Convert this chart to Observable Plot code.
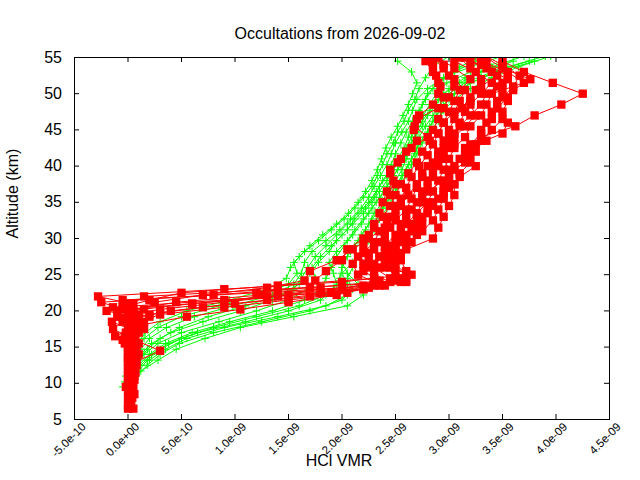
<!DOCTYPE html>
<html>
<head>
<meta charset="utf-8">
<script src="https://cdn.jsdelivr.net/npm/d3@7"></script>
<script src="https://cdn.jsdelivr.net/npm/@observablehq/plot@0.6"></script>
<style>
  html, body { margin: 0; padding: 0; background: #fff; }
</style>
</head>
<body>
<div id="chart"></div>
<script>
// ---- Data (HCl VMR in units of 1e-9, altitude in km) ----
const xTicks = [-0.5, 0, 0.5, 1, 1.5, 2, 2.5, 3, 3.5, 4, 4.5];
const yTicks = [5, 10, 15, 20, 25, 30, 35, 40, 45, 50, 55];

const greenAltA = [9.5, 11, 12.5, 14, 15.5, 17, 18.5, 20, 21.5, 23, 24.5, 26, 27.5, 29, 30.5, 32, 33.5, 35, 36.5, 38, 39.5, 41, 42.5, 44, 45.5, 47, 48.5, 50, 51.5, 53, 54.5];
const greenAltB = [10.2, 11.7, 13.2, 14.7, 16.2, 17.7, 19.2, 20.7, 22.2, 23.7, 25.2, 26.7, 28.2, 29.7, 31.2, 32.7, 34.2, 35.7, 37.2, 38.7, 40.2, 41.7, 43.2, 44.7, 46.2, 47.7, 49.2, 50.7, 52.2, 53.7, 55.2];

const g01 = [-0.05, -0.02, 0.02, 0.05, 0.09, 0.16, 0.3, 0.55, 0.95, 1.3, 1.48, 1.52, 1.6, 1.7, 1.82, 1.95, 2.06, 2.15, 2.22, 2.28, 2.33, 2.37, 2.41, 2.46, 2.52, 2.57, 2.62, 2.66, 2.7, 2.65, 2.52];
const g02 = [0.0, 0.05, 0.1, 0.18, 0.3, 0.48, 0.75, 1.1, 1.42, 1.6, 1.7, 1.78, 1.88, 1.95, 2.05, 2.12, 2.22, 2.3, 2.35, 2.42, 2.46, 2.5, 2.55, 2.6, 2.66, 2.72, 2.78, 2.85, 2.95, 3.1, 3.3];
const g03 = [0.02, 0.08, 0.18, 0.3, 0.48, 0.8, 1.25, 1.7, 2.0, 2.1, 2.05, 2.1, 2.15, 2.2, 2.25, 2.3, 2.35, 2.42, 2.5, 2.55, 2.6, 2.65, 2.7, 2.78, 2.82, 2.88, 2.95, 3.05, 3.2, 3.45, 3.8];
const g04 = [null, 0.12, 0.28, 0.45, 0.72, 1.05, 1.55, 2.05, 2.2, 2.15, 2.05, 2.0, 2.08, 2.15, 2.22, 2.28, 2.38, 2.45, 2.5, 2.56, 2.62, 2.68, 2.72, 2.8, 2.85, 2.92, 3.0, 3.12, 3.3, 3.55, 3.9];
const g05 = [null, 0.02, 0.06, 0.12, 0.22, 0.4, 0.7, 1.05, 1.35, 1.55, 1.62, 1.68, 1.75, 1.85, 1.95, 2.05, 2.15, 2.25, 2.32, 2.38, 2.45, 2.52, 2.58, 2.62, 2.68, 2.72, 2.75, 2.8, 2.9, 3.05, 3.25];
const g06 = [-0.03, 0.0, 0.04, 0.08, 0.15, 0.28, 0.5, 0.85, 1.25, 1.5, 1.58, 1.55, 1.65, 1.78, 1.9, 2.02, 2.12, 2.2, 2.28, 2.33, 2.38, 2.42, 2.48, 2.52, 2.58, 2.62, 2.68, 2.72, 2.78, 2.85, 3.0];
const g07 = [null, null, 0.1, 0.2, 0.35, 0.6, 0.95, 1.35, 1.65, 1.8, 1.85, 1.9, 1.95, 2.02, 2.1, 2.18, 2.25, 2.32, 2.4, 2.45, 2.52, 2.58, 2.62, 2.68, 2.75, 2.8, 2.88, 2.95, 3.1, 3.3, 3.6];
const g08 = [0.05, 0.1, 0.18, 0.3, 0.5, 0.8, 1.2, 1.6, 1.85, 1.95, 1.92, 1.88, 1.95, 2.05, 2.12, 2.2, 2.28, 2.35, 2.42, 2.48, 2.55, 2.6, 2.65, 2.7, 2.75, 2.82, 2.9, 3.0, 3.15, 3.4, 3.7];
const g09 = [-0.02, 0.03, 0.08, 0.15, 0.28, 0.5, 0.85, 1.2, 1.5, 1.68, 1.75, 1.72, 1.8, 1.9, 2.0, 2.1, 2.2, 2.28, 2.35, 2.42, 2.48, 2.55, 2.6, 2.65, 2.7, 2.76, 2.82, 2.88, 2.98, 3.2, 3.5];
const g10 = [null, null, 0.2, 0.35, 0.55, 0.9, 1.4, 1.85, 2.05, 2.05, 2.0, 2.1, 2.2, 2.25, 2.3, 2.35, 2.42, 2.48, 2.52, 2.6, 2.65, 2.7, 2.75, 2.82, 2.9, 2.95, 3.05, 3.2, 3.4, 3.65, 3.95];
const g11 = [0.0, 0.05, 0.12, 0.22, 0.38, 0.65, 1.1, 1.5, 1.8, 1.92, 1.98, 2.0, 2.05, 2.12, 2.18, 2.25, 2.3, 2.38, 2.45, 2.5, 2.56, 2.6, 2.66, 2.72, 2.78, 2.85, 2.92, 3.0, 3.15, 3.4, 3.75];
const g12 = [null, 0.02, 0.06, 0.12, 0.2, 0.36, 0.62, 0.98, 1.35, 1.55, 1.62, 1.65, 1.72, 1.85, 1.98, 2.08, 2.18, 2.25, 2.3, 2.36, 2.42, 2.46, 2.5, 2.56, 2.62, 2.66, 2.7, 2.8, 2.95, 3.2, 3.5];

const redAltA = [6.5, 8, 9.5, 11, 12.5, 14, 15.5, 17, 18.5, 19.5, 20.5, 21.5, 22.5, 23.5, 24.5, 26, 27.5, 29, 30.5, 32, 33.5, 35, 36.5, 38, 39.5, 41, 42.5, 44, 45.5, 47, 48.5, 50, 51.5, 53, 54.5];
const redAltB = [7, 8.5, 10, 11.5, 13, 14.5, 16, 17.5, 19, 20, 21, 22, 23, 24, 25, 26.5, 28, 29.5, 31, 32.5, 34, 35.5, 37, 38.5, 40, 41.5, 43, 44.5, 46, 47.5, 49, 50.5, 52, 53.5, 55];
const redAltC = [7.5, 9, 10.5, 12, 13.5, 15, 16.5, 18, 19.2, 20.2, 21.2, 22.2, 23.2, 24.2, 25.5, 27, 28.5, 30, 31.5, 33, 34.5, 36, 37.5, 39, 40.5, 42, 43.5, 45, 46.5, 48, 49.5, 51, 52.5, 54, 55.5];

const r01 = [0.05, 0.0, -0.02, 0.0, 0.02, 0.0, 0.03, -0.02, 0.05, 0.1, 0.0, -0.05, 1.2, 2.35, 2.45, 2.3, 2.15, 2.2, 2.25, 2.3, 2.35, 2.38, 2.42, 2.48, 2.45, 2.55, 2.65, 2.8, 2.68, 2.72, 2.85, 2.9, 2.9, 2.85, 2.78];
const r02 = [null, 0.02, 0.04, 0.03, 0.05, 0.02, 0.06, -0.14, 0.0, -0.1, 0.02, -0.28, 0.9, 2.0, 2.6, 2.45, 2.4, 2.5, 2.55, 2.6, 2.65, 2.75, 2.8, 2.85, 2.9, 2.95, 3.0, 3.05, 3.1, 3.15, 3.2, 3.25, 3.3, 3.2, 3.1];
const r03 = [0.03, 0.0, 0.05, 0.01, 0.04, 0.08, -0.12, 0.1, 0.55, 1.05, 1.5, 1.95, 2.25, 2.35, 2.2, 2.25, 2.3, 2.4, 2.45, 2.5, 2.55, 2.62, 2.7, 2.75, 2.85, 2.9, 2.95, 3.0, 3.05, 3.12, 3.2, 3.3, 3.45, 3.3, 3.2];
const r04 = [null, null, 0.03, 0.06, 0.01, 0.05, -0.03, 0.1, -0.15, 0.05, -0.14, 0.9, 1.8, 2.3, 2.5, 2.45, 2.5, 2.6, 2.7, 2.75, 2.8, 2.85, 2.95, 3.0, 3.05, 3.1, 3.15, 3.3, 3.62, 3.8, 4.05, 4.25, 3.97, 3.7, 3.5];
const r05 = [0.0, 0.06, 0.0, 0.07, 0.0, 0.06, 0.0, 0.15, 0.1, 0.0, 0.6, 1.3, 2.0, 2.3, 2.15, 2.1, 2.2, 2.3, 2.35, 2.42, 2.5, 2.55, 2.6, 2.65, 2.72, 2.8, 2.85, 2.9, 2.95, 3.0, 3.05, 3.1, 3.2, 3.05, 2.9];
const r06 = [null, null, 0.0, 0.04, 0.0, 0.03, 0.07, 0.0, 0.2, -0.05, -0.25, 0.8, 1.7, 2.5, 2.6, 2.55, 2.6, 2.85, 2.9, 2.95, 3.0, 3.05, 3.05, 3.1, 3.2, 3.25, 3.3, 3.4, 3.5, 3.45, 3.5, 3.6, 3.66, 3.5, 3.3];
const r07 = [null, 0.04, 0.0, 0.03, 0.06, 0.1, 0.08, 0.05, 0.1, 0.3, 0.9, 1.5, 2.05, 2.2, 2.3, 2.25, 2.35, 2.4, 2.5, 2.55, 2.6, 2.7, 2.75, 2.8, 2.85, 2.9, 2.95, 3.0, 3.1, 3.2, 3.3, 3.35, 3.5, 3.4, 3.2];
const r08 = [null, null, 0.02, 0.0, 0.03, 0.0, 0.04, 0.08, -0.05, 0.0, 0.05, 0.15, 1.4, 2.55, 2.65, 2.3, 2.45, 2.55, 2.65, 2.7, 2.8, 2.9, 2.95, 3.0, 3.05, 3.15, 3.2, 3.3, 3.35, 3.4, 3.45, 3.5, 3.55, 3.35, 3.15];
const r09 = [null, 0.02, 0.06, 0.0, 0.05, 0.0, -0.03, 0.12, -0.1, 0.3, 0.9, 1.5, 1.8, 1.75, 1.85, 2.0, 2.05, 2.2, 2.3, 2.38, 2.45, 2.5, 2.55, 2.62, 2.7, 2.75, 2.82, 2.85, 2.9, 2.95, 3.0, 3.05, 3.0, 2.95, 2.8];
const r10 = [0.0, 0.02, 0.05, 0.02, 0.0, 0.04, 0.02, 0.0, 0.15, 0.05, -0.05, 0.2, 0.5, 1.4, 2.3, 2.35, 2.45, 2.5, 2.6, 2.65, 2.7, 2.8, 2.85, 2.9, 2.95, 3.0, 3.05, 3.15, 3.2, 3.3, 3.35, 3.4, 3.7, 3.55, 3.3];
const r11 = [null, null, null, 0.05, 0.08, 0.3, 0.06, 0.02, 0.1, -0.2, 0.6, 1.4, 2.2, 2.6, 2.6, 2.5, 2.55, 2.65, 2.75, 2.85, 2.9, 2.95, 3.0, 3.1, 3.25, 3.2, 3.25, 3.5, 3.55, 3.5, 3.55, 3.6, 3.76, 3.5, 3.35];
const r12 = [null, null, null, 0.02, 0.0, 0.05, 0.0, 0.05, 0.0, 0.15, 0.25, 0.7, 1.3, 1.65, 1.7, 1.95, 2.1, 2.25, 2.4, 2.45, 2.5, 2.45, 2.5, 2.45, 2.52, 2.6, 2.7, 2.67, 2.7, 2.9, 2.95, 2.92, 2.88, 2.85, 2.75];
const r13 = [null, null, null, null, 0.08, 0.02, 0.1, 0.0, -0.05, 0.2, 0.7, 1.3, 1.9, 2.4, 2.55, 2.4, 2.35, 2.45, 2.55, 2.6, 2.7, 2.75, 2.8, 2.95, 3.0, 2.95, 3.0, 3.05, 3.15, 3.25, 3.2, 3.3, 3.4, 3.25, 3.05];
const r14 = [null, null, null, null, null, 0.04, -0.05, 0.12, 0.05, 0.4, 1.0, 1.7, 2.2, 2.45, 2.3, 2.2, 2.25, 2.35, 2.4, 2.5, 2.6, 2.65, 2.7, 2.75, 2.8, 2.9, 3.05, 2.9, 2.95, 3.05, 3.1, 3.15, 3.05, 2.95, 2.85];
const r15 = [null, null, null, null, 0.06, 0.0, 0.05, 0.02, 0.1, 0.05, 0.45, 1.25, 2.0, 2.6, 2.5, 2.4, 2.5, 2.6, 2.7, 2.75, 2.85, 2.95, 3.05, 3.0, 3.15, 3.2, 3.35, 3.3, 3.4, 3.45, 3.55, 3.45, 3.55, 3.35, 3.2];

const greenSeries = [
  [greenAltA, g01], [greenAltB, g02], [greenAltA, g03], [greenAltB, g04],
  [greenAltA, g05], [greenAltB, g06], [greenAltA, g07], [greenAltB, g08],
  [greenAltA, g09], [greenAltB, g10], [greenAltA, g11], [greenAltB, g12]
];
const redSeries = [
  [redAltA, r01], [redAltB, r02], [redAltC, r03], [redAltA, r04],
  [redAltB, r05], [redAltC, r06], [redAltA, r07], [redAltB, r08],
  [redAltC, r09], [redAltA, r10], [redAltB, r11], [redAltC, r12],
  [redAltA, r13], [redAltB, r14], [redAltC, r15]
];

function toRows(series, prefix) {
  const rows = [];
  series.forEach(([alts, vals], i) => {
    vals.forEach((v, j) => {
      if (v !== null) rows.push({id: prefix + i, alt: alts[j], v});
    });
  });
  return rows;
}
const greenRows = toRows(greenSeries, "g");
const redRows = toRows(redSeries, "r");

const title = "Occultations from 2026-09-02";
const xLabel = "HCl VMR";
const yLabel = "Altitude (km)";

function fmtExp(d) {
  const s = (d * 1e-9).toExponential(1);
  const [m, e] = s.split("e");
  return m + "e" + e[0] + e.slice(1).padStart(2, "0");
}

const W = 640, H = 480;
const mL = 74, mR = 31, mT = 57, mB = 61;
const plotW = W - mL - mR, plotH = H - mT - mB;
const tickLen = 5;
const GREEN = "#00ff00", RED = "#ff0000";

const chart = Plot.plot({
  width: W, height: H,
  marginLeft: mL, marginRight: mR, marginTop: mT, marginBottom: mB,
  style: {fontFamily: "'Liberation Sans', Arial, sans-serif", background: "#fff", color: "#000"},
  x: {domain: [-0.5, 4.5], axis: null},
  y: {domain: [5, 55], axis: null},
  marks: [
    Plot.line(greenRows, {x: "v", y: "alt", z: "id", stroke: GREEN, strokeWidth: 1, clip: true}),
    Plot.dot(greenRows, {x: "v", y: "alt", symbol: "plus", r: 2.6, stroke: GREEN, strokeWidth: 1, clip: true}),
    Plot.line(redRows, {x: "v", y: "alt", z: "id", stroke: RED, strokeWidth: 1, clip: true}),
    Plot.dot(redRows, {x: "v", y: "alt", symbol: "square", r: 4.7, fill: RED, stroke: "none", clip: true}),
    Plot.frame({stroke: "#000", strokeWidth: 1}),
    Plot.tickX(xTicks, {x: d => d, insetTop: plotH - tickLen, stroke: "#000"}),
    Plot.tickX(xTicks, {x: d => d, insetBottom: plotH - tickLen, stroke: "#000"}),
    Plot.tickY(yTicks, {y: d => d, insetRight: plotW - tickLen, stroke: "#000"}),
    Plot.tickY(yTicks, {y: d => d, insetLeft: plotW - tickLen, stroke: "#000"}),
    Plot.text(yTicks, {y: d => d, text: d => String(d), frameAnchor: "left", textAnchor: "end", dx: -12.5, fontSize: 16, fill: "#000"}),
    Plot.text(xTicks, {x: d => d, text: fmtExp, frameAnchor: "bottom", rotate: -45, textAnchor: "end", dx: 12, dy: 8, fontSize: 11.5, fill: "#000"}),
    Plot.text([xLabel], {text: d => d, frameAnchor: "bottom", dx: -3, dy: 46, fontSize: 16, fill: "#000"}),
    Plot.text([yLabel], {text: d => d, frameAnchor: "left", rotate: -90, dx: -62, fontSize: 16, fill: "#000"}),
    Plot.text([title], {text: d => d, frameAnchor: "top", dx: -2, dy: -29.5, fontSize: 16, fill: "#000"})
  ]
});
document.getElementById("chart").appendChild(chart);
</script>
</body>
</html>
